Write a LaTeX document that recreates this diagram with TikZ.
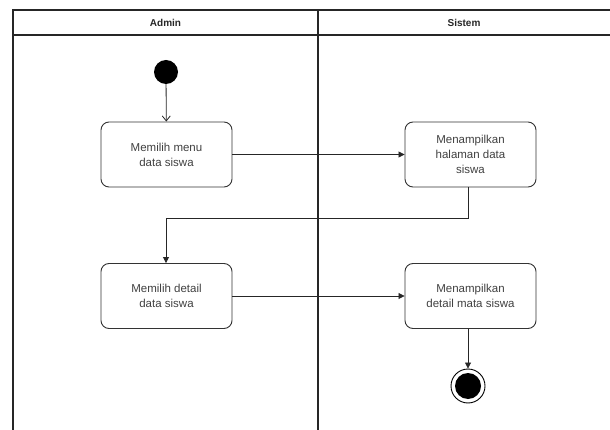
\documentclass[tikz,border=0pt]{standalone}
\usepackage{fontspec}
\setmainfont{Liberation Sans}
\usetikzlibrary{arrows.meta}
\tikzset{
  act/.style={draw=black!80, line width=0.9pt, rounded corners=8pt, minimum width=131pt, minimum height=65pt, align=center, font=\fontsize{11.5}{15}\selectfont, text=black!75, inner sep=2pt},
  conn/.style={draw=black!85, line width=0.8pt, -{Triangle[length=6pt,width=6pt]}},
  lane/.style={draw=black!85, line width=1.6pt},
  hdr/.style={font=\bfseries\fontsize{10}{12}\selectfont, text=black!85}
}
\begin{document}
\begin{tikzpicture}[x=1pt,y=-1pt]
\useasboundingbox (0,0) rectangle (610,430);
% swimlanes
\draw[lane] (610,10) -- (13,10) -- (13,430);
\draw[lane] (13,35) -- (610,35);
\draw[lane] (318,10) -- (318,430);
\node[hdr] (h1) at (165.5,22.5) {Admin};
\node[hdr] (h2) at (464,22.5) {Sistem};
% nodes
\node[circle, fill=black, minimum size=24pt, inner sep=0pt] (start) at (166,72) {};
\node[act] (a1) at (166.5,154.5) {Memilih menu\\data siswa};
\node[act] (a2) at (470.5,154.5) {Menampilkan\\halaman data\\siswa};
\node[act] (a3) at (166.5,296) {Memilih detail\\data siswa};
\node[act] (a4) at (470.5,296) {Menampilkan\\detail mata siswa};
\node[circle, draw=black, line width=0.9pt, minimum size=34pt, inner sep=0pt] (endo) at (468,386) {};
\node[circle, fill=black, minimum size=26pt, inner sep=0pt] (endi) at (468,386) {};
% connectors
\draw[draw=black!85, line width=0.8pt, -{Straight Barb[length=5pt,width=8pt]}] (start) -- (a1);
\draw[conn] (a1.east) -- (a2.west);
\draw[conn] (a2.south -| 468,0) -- (468,218) -- (166,218) -- (a3.north -| 166,0);
\draw[conn] (a3.east) -- (a4.west);
\draw[conn] (a4.south -| 468,0) -- (endo);
\end{tikzpicture}
\end{document}
